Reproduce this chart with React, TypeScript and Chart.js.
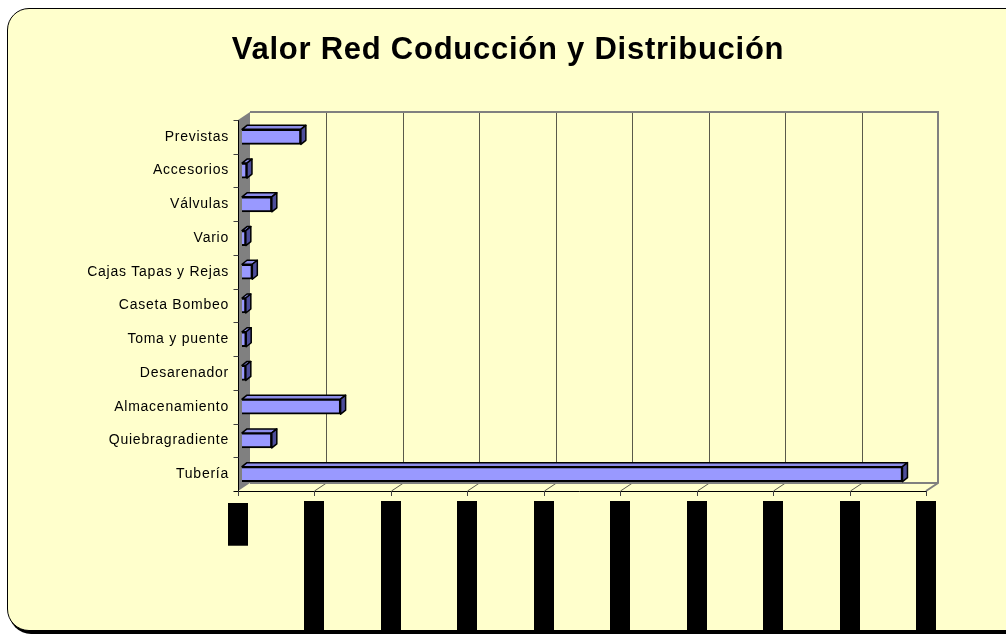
import React, { useEffect, useRef } from 'react';
import { Chart, registerables } from 'chart.js';

Chart.register(...registerables);

const TITLE = 'Valor Red Coducción y Distribución';

const categories = [
  'Previstas',
  'Accesorios',
  'Válvulas',
  'Vario',
  'Cajas Tapas y Rejas',
  'Caseta Bombeo',
  'Toma y puente',
  'Desarenador',
  'Almacenamiento',
  'Quiebragradiente',
  'Tubería',
];

const values = [
  77000000, 6500000, 39000000, 5000000, 13500000, 5000000, 5500000, 5000000,
  129000000, 39000000, 864000000,
];

const tickValues = [0, 100000000, 200000000, 300000000, 400000000, 500000000, 600000000, 700000000, 800000000, 900000000];
const tickLabels = [
  '$     -',
  '$ 100.000.000,00',
  '$ 200.000.000,00',
  '$ 300.000.000,00',
  '$ 400.000.000,00',
  '$ 500.000.000,00',
  '$ 600.000.000,00',
  '$ 700.000.000,00',
  '$ 800.000.000,00',
  '$ 900.000.000,00',
];

const FRONT_DX = -4;
const BACK_DX = 8;
const DEPTH_DY = 8;

const framePlugin = {
  id: 'frame3d',
  beforeDraw(chart: any) {
    chart.ctx.letterSpacing = '0.75px';
  },
  beforeDatasetsDraw(chart: any) {
    const { ctx, chartArea: a, scales } = chart;
    ctx.letterSpacing = '0px';
    const x = scales.x;
    const fx = (v: number) => x.getPixelForValue(v) + FRONT_DX;
    const bx = (v: number) => x.getPixelForValue(v) + BACK_DX;
    const top = a.top;
    const bot = a.bottom;
    const minV = tickValues[0];
    const maxV = tickValues[tickValues.length - 1];
    ctx.save();
    // left wall
    ctx.fillStyle = '#808080';
    ctx.beginPath();
    ctx.moveTo(fx(minV), top);
    ctx.lineTo(bx(minV), top - DEPTH_DY);
    ctx.lineTo(bx(minV), bot - DEPTH_DY);
    ctx.lineTo(fx(minV), bot);
    ctx.closePath();
    ctx.fill();
    // back gridlines
    ctx.strokeStyle = '#5a5a4a';
    ctx.lineWidth = 1;
    tickValues.forEach((v) => {
      if (v === minV || v === maxV) return;
      const px = Math.round(bx(v)) + 0.5;
      ctx.beginPath();
      ctx.moveTo(px, top - DEPTH_DY);
      ctx.lineTo(px, bot - DEPTH_DY);
      ctx.lineTo(px - (BACK_DX - FRONT_DX), bot);
      ctx.stroke();
    });
    // back wall outline (top + right) and floor
    ctx.strokeStyle = '#808080';
    ctx.lineWidth = 2;
    ctx.beginPath();
    ctx.moveTo(bx(minV), top - DEPTH_DY);
    ctx.lineTo(bx(maxV), top - DEPTH_DY);
    ctx.lineTo(bx(maxV), bot - DEPTH_DY);
    ctx.lineTo(fx(maxV), bot);
    ctx.stroke();
    ctx.beginPath();
    ctx.moveTo(bx(minV), bot - DEPTH_DY);
    ctx.lineTo(bx(maxV), bot - DEPTH_DY);
    ctx.stroke();
    // front axes
    ctx.strokeStyle = '#000';
    ctx.lineWidth = 1;
    const fx0 = Math.round(fx(minV)) + 0.5;
    ctx.beginPath();
    ctx.moveTo(fx0, top);
    ctx.lineTo(fx0, bot + 0.5);
    ctx.moveTo(fx0 - 5, Math.round(bot) + 0.5);
    ctx.lineTo(fx(maxV), Math.round(bot) + 0.5);
    ctx.stroke();
    ctx.strokeStyle = '#404040';
    ctx.beginPath();
    const n = categories.length;
    const band = (bot - top) / n;
    for (let k = 0; k < n; k++) {
      const py = Math.round(top + k * band) + 0.5;
      ctx.moveTo(fx0 - 5, py);
      ctx.lineTo(fx0, py);
    }
    tickValues.forEach((v) => {
      const px = Math.round(fx(v)) + 0.5;
      ctx.moveTo(px, bot);
      ctx.lineTo(px, bot + 5);
    });
    ctx.stroke();
    ctx.restore();
  },
  afterDatasetsDraw(chart: any) {
    const { ctx } = chart;
    const meta = chart.getDatasetMeta(0);
    const dx = 5;
    const dy = 4;
    ctx.save();
    ctx.lineWidth = 1.5;
    ctx.strokeStyle = '#000';
    ctx.lineJoin = 'round';
    meta.data.forEach((bar: any) => {
      const p = bar.getProps(['x', 'y', 'base', 'height'], true);
      const x0 = p.base;
      const x1 = p.x;
      const t = p.y - p.height / 2;
      const b = p.y + p.height / 2;
      ctx.fillStyle = '#8c8ce8';
      ctx.beginPath();
      ctx.moveTo(x0, t);
      ctx.lineTo(x0 + dx, t - dy);
      ctx.lineTo(x1 + dx, t - dy);
      ctx.lineTo(x1, t);
      ctx.closePath();
      ctx.fill();
      ctx.stroke();
      ctx.fillStyle = '#4d4d9a';
      ctx.beginPath();
      ctx.moveTo(x1, t);
      ctx.lineTo(x1 + dx, t - dy);
      ctx.lineTo(x1 + dx, b - dy);
      ctx.lineTo(x1, b);
      ctx.closePath();
      ctx.fill();
      ctx.stroke();
    });
    ctx.restore();
  },
  afterDraw(chart: any) {
    const { ctx, chartArea: a } = chart;
    const x = chart.scales.x;
    ctx.save();
    ctx.letterSpacing = '0px';
    ctx.font = '17px Arial';
    x.ticks.forEach((t: any, i: number) => {
      const label = tickLabels[i] ?? String(t.value);
      const px = Math.round(x.getPixelForValue(t.value) + FRONT_DX);
      const w = ctx.measureText(label).width;
      const y0 = a.bottom + (i === 0 ? 12 : 10);
      ctx.fillStyle = '#000';
      ctx.fillRect(px - 10, y0, 20, w + 4);
      ctx.translate(px, y0 + 2);
      ctx.rotate(Math.PI / 2);
      ctx.textBaseline = 'middle';
      ctx.textAlign = 'left';
      ctx.fillText(label, 0, 0);
      ctx.setTransform(1, 0, 0, 1, 0, 0);
    });
    ctx.restore();
  },
};

export default function App() {
  const ref = useRef<HTMLCanvasElement | null>(null);

  useEffect(() => {
    if (!ref.current) return;
    const chart = new Chart(ref.current, {
      type: 'bar',
      data: {
        labels: categories,
        datasets: [
          {
            data: values,
            backgroundColor: '#9999ff',
            borderColor: '#000000',
            borderWidth: 2,
            barThickness: 15,
          },
        ],
      },
      options: {
        responsive: false,
        animation: false,
        indexAxis: 'y',
        layout: { padding: { left: 86, right: 76, top: 0, bottom: 144 } },
        plugins: {
          legend: { display: false },
          tooltip: { enabled: false },
          title: {
            display: true,
            text: TITLE,
            color: '#000',
            font: { family: 'Arial', size: 31, weight: 'bold' },
            padding: { top: 32, bottom: 50.8 },
          },
        },
        scales: {
          x: {
            type: 'linear',
            min: tickValues[0],
            max: tickValues[tickValues.length - 1],
            ticks: {
              display: false,
              stepSize: tickValues[1] - tickValues[0],
              callback: (_v: any, i: number) => tickLabels[i],
            },
            grid: { display: false, drawTicks: false },
            border: { display: false },
            afterFit: (s: any) => {
              s.height = 0;
            },
          },
          y: {
            type: 'category',
            ticks: {
              color: '#000',
              font: { family: 'Arial', size: 14 },
              padding: 13,
            },
            grid: { display: false, drawTicks: false },
            border: { display: false },
            afterFit: (s: any) => {
              s.width = 156;
            },
          },
        },
      },
      plugins: [framePlugin],
    } as any);
    return () => chart.destroy();
  }, []);

  return (
    <div style={{ position: 'fixed', left: 0, top: 0, width: 1006, height: 635, overflow: 'hidden' }}>
      <div
        style={{
          position: 'absolute',
          left: 7,
          top: 8,
          width: 1020,
          height: 621,
          border: '1px solid #000',
          borderRadius: 22,
          boxShadow: '2px 3px 0 #000',
          background: '#ffffcc',
          overflow: 'hidden',
        }}
      >
        <canvas
          ref={ref}
          width={1006}
          height={635}
          style={{ position: 'absolute', left: -8, top: -9, width: 1006, height: 635 }}
        />
      </div>
    </div>
  );
}
